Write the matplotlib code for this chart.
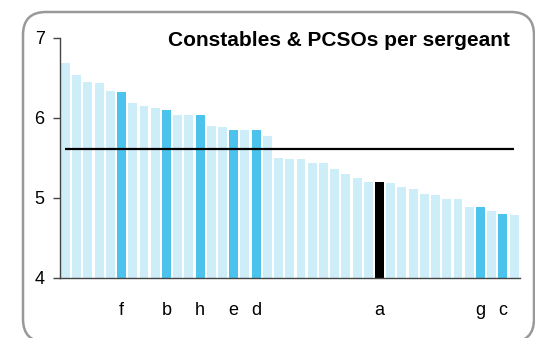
import matplotlib

matplotlib.use("Agg")

import matplotlib.pyplot as plt
from matplotlib.patches import FancyBboxPatch

plt.rcParams["font.family"] = ["Liberation Sans", "DejaVu Sans"]

# constables & PCSOs per sergeant, one value per force, sorted high to low
values = [
    6.68, 6.53, 6.44, 6.43, 6.33, 6.32, 6.18, 6.14, 6.12, 6.10,
    6.03, 6.03, 6.03, 5.90, 5.88, 5.85, 5.85, 5.85, 5.77, 5.50,
    5.49, 5.48, 5.44, 5.43, 5.36, 5.30, 5.25, 5.20, 5.20, 5.18,
    5.14, 5.11, 5.05, 5.04, 4.99, 4.98, 4.89, 4.88, 4.83, 4.80,
    4.79,
]
# highlighted forces: index -> letter
labelled = {5: "f", 9: "b", 12: "h", 15: "e", 17: "d", 28: "a", 37: "g", 39: "c"}
focus = 28  # shown in black
average = 5.61
yticks = [4, 5, 6, 7]

LIGHT = "#cdedf8"
MID = "#4bc3ec"

colors = []
for i in range(len(values)):
    if i == focus:
        colors.append("black")
    elif i in labelled:
        colors.append(MID)
    else:
        colors.append(LIGHT)

W, H = 535, 338
fig = plt.figure(figsize=(W / 100, H / 100), dpi=100)
ax = fig.add_axes([60 / W, 60 / H, 460 / W, 240.5 / H])

x = list(range(len(values)))
ax.bar(x, [v - 4 for v in values], bottom=4, width=0.8, color=colors)
ax.hlines(average, 0, len(values) - 1, color="black", linewidth=1.6, zorder=3)

ax.set_ylim(4, 7)
ax.set_xlim(-0.49, len(values) - 1 + 0.53)
ax.set_yticks(yticks)
ax.set_yticklabels([str(t) for t in yticks], fontsize=13)
ax.set_xticks(list(labelled.keys()))
ax.set_xticklabels(list(labelled.values()), fontsize=13)
ax.tick_params(axis="x", length=0, pad=17)
ax.tick_params(axis="y", length=5, width=1, color="#444444", pad=6)
for side in ("top", "right"):
    ax.spines[side].set_visible(False)
for side in ("left", "bottom"):
    ax.spines[side].set_color("#444444")
    ax.spines[side].set_linewidth(1)

fig.text(510 / W, 1 - 46 / H, "Constables & PCSOs per sergeant",
         ha="right", va="baseline", fontsize=15, fontweight="bold")

# rounded frame around the chart (runs slightly off the bottom and right)
frame = FancyBboxPatch((23, -4), 511, 330,
                       boxstyle="round,pad=0,rounding_size=23",
                       transform=None, facecolor="none",
                       edgecolor="#999999", linewidth=1.8)
fig.patches.append(frame)

fig.savefig("out.png", dpi=100)
